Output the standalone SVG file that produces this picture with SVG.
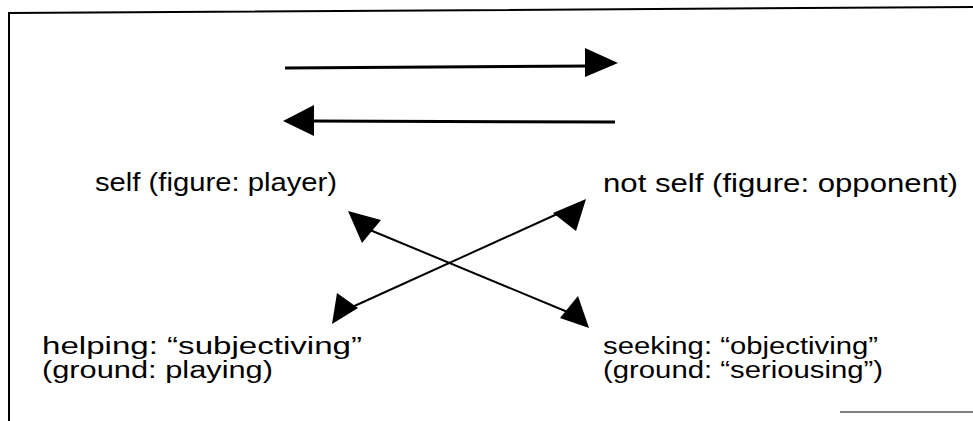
<svg xmlns="http://www.w3.org/2000/svg" width="973" height="421" viewBox="0 0 973 421">
<style>
.t{font-family:"Liberation Sans",Arial,sans-serif;font-size:25px;fill:#000}
.t2{font-family:"Liberation Sans",Arial,sans-serif;font-size:23px;fill:#000}
.frame{stroke:#000;stroke-width:2;fill:none}
.thick{stroke:#000;stroke-width:3;fill:none}
.thin{stroke:#000;stroke-width:2;fill:none}
.head{fill:#000}
</style>
<rect width="973" height="421" fill="#fff"/>
<g id="frame">
<path class="frame" d="M9,421 L9,13 L973,7"/>
<path d="M840,412 L973,412" stroke="#555" stroke-width="1.5" fill="none"/>
</g>
<g id="connectors">
<line class="thick" x1="285" y1="68" x2="590" y2="66"/>
<path class="head" d="M585,48 L618,63 L585,77 z"/>
<line class="thick" x1="615" y1="122" x2="310" y2="121"/>
<path class="head" d="M314,105 L283,121 L314,136 z"/>
<line class="thin" x1="370" y1="230" x2="570" y2="313"/>
<path class="head" d="M348,211 L381,220 L362,243 z"/>
<path class="head" d="M589,328 L560,318 L578,296 z"/>
<line class="thin" x1="350" y1="308" x2="566" y2="210"/>
<path class="head" d="M332,324 L337,293 L358,308 z"/>
<path class="head" d="M586,199 L576,231 L553,213 z"/>
</g>
<g id="self"><text class="t" x="95" y="191" textLength="242" lengthAdjust="spacingAndGlyphs">self (figure: player)</text></g>
<g id="notself"><text class="t" x="603" y="192" textLength="355" lengthAdjust="spacingAndGlyphs">not self (figure: opponent)</text></g>
<g id="helping"><text class="t2"><tspan x="42" y="354" textLength="320" lengthAdjust="spacingAndGlyphs">helping: “subjectiving”</tspan><tspan x="42" y="378" textLength="231" lengthAdjust="spacingAndGlyphs">(ground: playing)</tspan></text></g>
<g id="seeking"><text class="t2"><tspan x="603" y="354" textLength="275" lengthAdjust="spacingAndGlyphs">seeking: “objectiving”</tspan><tspan x="603" y="378" textLength="280" lengthAdjust="spacingAndGlyphs">(ground: “seriousing”)</tspan></text></g>
</svg>
